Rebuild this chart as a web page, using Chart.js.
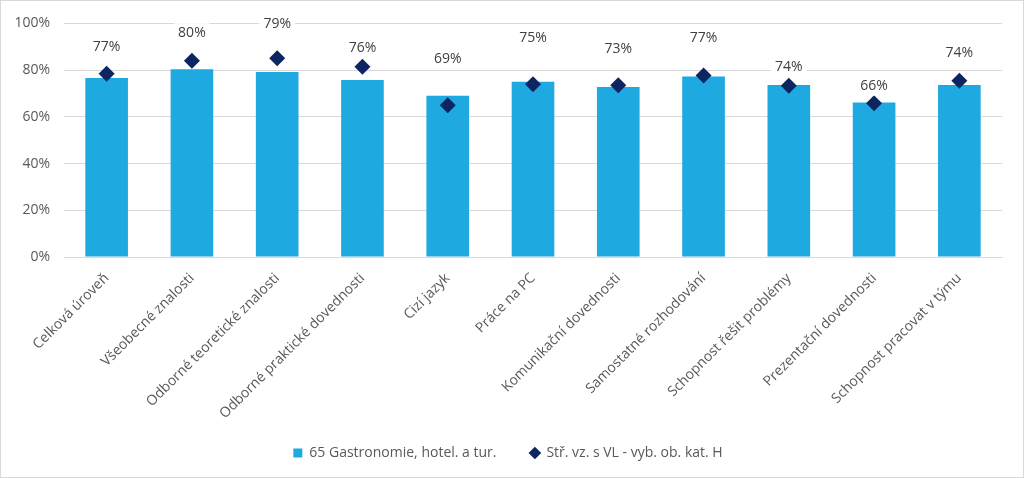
<!DOCTYPE html>
<html>
<head>
<meta charset="utf-8">
<script src="https://cdn.jsdelivr.net/npm/chart.js@4/dist/chart.umd.min.js"></script>
<style>
  html, body { margin: 0; padding: 0; background: #fff; }
  #wrap { width: 1024px; height: 478px; box-sizing: border-box; border: 1px solid #d9d9d9; }
  canvas { display: block; }
</style>
</head>
<body>
<div id="wrap"><canvas id="chart" width="1022" height="476"></canvas></div>
<script>
    const kategorie = [
        'Celková úroveň', 'Všeobecné znalosti', 'Odborné teoretické znalosti',
        'Odborné praktické dovednosti', 'Cizí jazyk', 'Práce na PC',
        'Komunikační dovednosti', 'Samostatné rozhodování', 'Schopnost řešit problémy',
        'Prezentační dovednosti', 'Schopnost pracovat v týmu'
    ];
    const gastronomie = [76.6, 80.4, 79.2, 75.8, 69.0, 75.0, 72.8, 77.3, 73.6, 66.1, 73.6];
    const prumerH = [78.4, 84.0, 85.1, 81.4, 65.0, 73.9, 73.5, 77.7, 73.3, 65.8, 75.4];
    const yTicks = [0, 20, 40, 60, 80, 100];

    // posun popisku nad sloupcem (px), jak je v predloze rucne posunuty
    const labelLift = [31, 36, 48, 32, 37, 44, 38, 38, 18, 17, 32];

    const font = "'Open Sans', 'DejaVu Sans', sans-serif";

    const barLabels = {
        id: 'barLabels',
        afterDatasetsDraw(chart) {
            const ctx = chart.ctx;
            const meta = chart.getDatasetMeta(0);
            ctx.save();
            ctx.font = '14px ' + font;
            ctx.textAlign = 'center';
            ctx.textBaseline = 'middle';
            meta.data.forEach((bar, i) => {
                const txt = Math.round(gastronomie[i]) + '%';
                const x = bar.x;
                const y = bar.y - labelLift[i];
                const w = ctx.measureText(txt).width + 8;
                ctx.fillStyle = '#ffffff';
                ctx.fillRect(x - w / 2, y - 10, w, 20);
                ctx.fillStyle = '#404040';
                ctx.fillText(txt, x, y);
            });
            ctx.restore();
        }
    };

    const ctx = document.getElementById('chart').getContext('2d');
    const chart = new Chart(ctx, {
        type: 'bar',
        data: {
            labels: kategorie,
            datasets: [{
                type: 'bar',
                label: '65 Gastronomie, hotel. a tur.',
                data: gastronomie,
                backgroundColor: '#1fa9e1',
                borderWidth: 0,
                barPercentage: 0.5,
                categoryPercentage: 1,
                pointStyle: 'rect',
                order: 1
            }, {
                type: 'line',
                label: 'Stř. vz. s VL - vyb. ob. kat. H',
                data: prumerH,
                showLine: false,
                pointStyle: 'rectRot',
                pointRadius: 8,
                pointHoverRadius: 8,
                backgroundColor: '#0d2560',
                borderColor: '#0d2560',
                borderWidth: 0,
                order: 0
            }]
        },
        options: {
            responsive: false,
            animation: false,
            layout: { padding: { left: 13, right: 21, top: 20, bottom: 7 } },
            plugins: {
                tooltip: { enabled: false },
                legend: {
                    display: true,
                    position: 'bottom',
                    labels: {
                        usePointStyle: true,
                        boxWidth: 9,
                        boxHeight: 9,
                        padding: 23,
                        color: '#595959',
                        font: { family: font, size: 14 },
                        sort: (a, b) => a.datasetIndex - b.datasetIndex,
                        generateLabels: c => {
                            const items = Chart.defaults.plugins.legend.labels.generateLabels(c);
                            items.forEach(it => { if (it.datasetIndex === 0) it.text += '\u00a0\u00a0\u00a0'; });
                            return items;
                        }
                    }
                }
            },
            scales: {
                x: {
                    grid: { display: false, drawTicks: false },
                    border: { color: '#d9d9d9' },
                    ticks: {
                        minRotation: 45,
                        maxRotation: 45,
                        padding: 13,
                        color: '#595959',
                        font: { family: font, size: 14 }
                    },
                    afterFit: s => { s.height = 166; }
                },
                y: {
                    min: 0,
                    max: 100,
                    afterBuildTicks: s => { s.ticks = yTicks.map(v => ({ value: v })); },
                    grid: { color: '#d9d9d9', drawTicks: false },
                    border: { display: false },
                    ticks: {
                        padding: 14,
                        color: '#595959',
                        font: { family: font, size: 14 },
                        callback: v => v + '%'
                    },
                    afterFit: s => { s.width = 50; }
                }
            }
        },
        plugins: [barLabels]
    });
</script>
</body>
</html>
